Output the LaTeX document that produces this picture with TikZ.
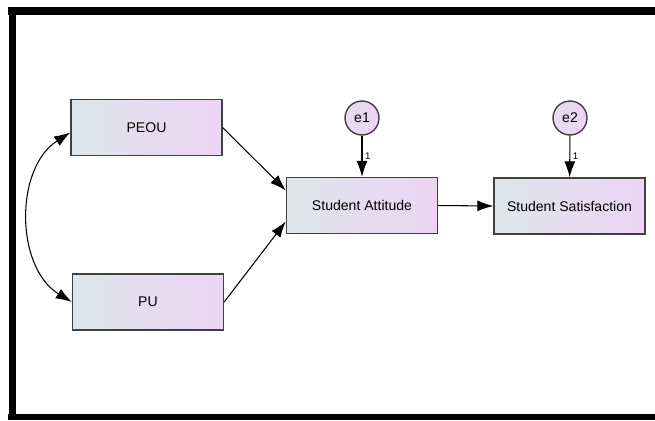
\documentclass[tikz,border=0pt]{standalone}
\usepackage{fontspec}
\setmainfont{Liberation Sans}
\usetikzlibrary{arrows.meta}

\definecolor{boxleft}{RGB}{221,230,234}
\definecolor{boxright}{RGB}{236,212,244}

\tikzset{
  varbox/.style={draw=black!75, line width=0.8pt, left color=boxleft, right color=boxright,
    minimum width=3.02cm, minimum height=1.12cm, font=\fontsize{8}{9.5}\selectfont},
  errnode/.style={circle, draw=black!75, line width=0.8pt, left color=boxleft!40!boxright, right color=boxright,
    minimum size=0.68cm, inner sep=0pt, font=\fontsize{8}{9.5}\selectfont},
  path/.style={-{Latex[length=3.2mm,width=2.2mm]}, line width=0.6pt},
  weight/.style={font=\fontsize{5.5}{6}\selectfont, right, inner sep=1.5pt}
}

\begin{document}
\begin{tikzpicture}[x=0.02cm,y=-0.02cm]
    \useasboundingbox (0,0) rectangle (655,420);
    % frame
    \draw [line width=4.3pt] (12.5,7) -- (12.5,420);
    \draw [line width=4.3pt] (8,11) -- (655,11);
    \draw [line width=3.5pt] (8,417) -- (655,417);
    % observed variables
    \node [varbox] (peou) at (146.5,127.5) {PEOU};
    \node [varbox] (pu) at (148,302) {PU};
    \node [varbox] (att) at (362,205.5) {Student Attitude};
    \node [varbox] (sat) at (569.5,206) {Student Satisfaction};
    % error terms
    \node [errnode] (e1) at (362,118) {e1};
    \node [errnode] (e2) at (570,118) {e2};
    % paths
    \draw [path] (peou.east) -- ([yshift=0.3cm]att.west);
    \draw [path] (pu.east) -- ([yshift=-0.32cm]att.west);
    \draw [path] (att.east) -- (sat.west);
    \draw [path] (e1) -- node [weight] {1} (att);
    \draw [path] (e2) -- node [weight] {1} (sat);
    % covariance
    \draw [path, {Latex[length=3.2mm,width=2.2mm]}-{Latex[length=3.2mm,width=2.2mm]}] ([yshift=-0.1cm]peou.west) to [bend right=58] (pu.west);
\end{tikzpicture}
\end{document}
